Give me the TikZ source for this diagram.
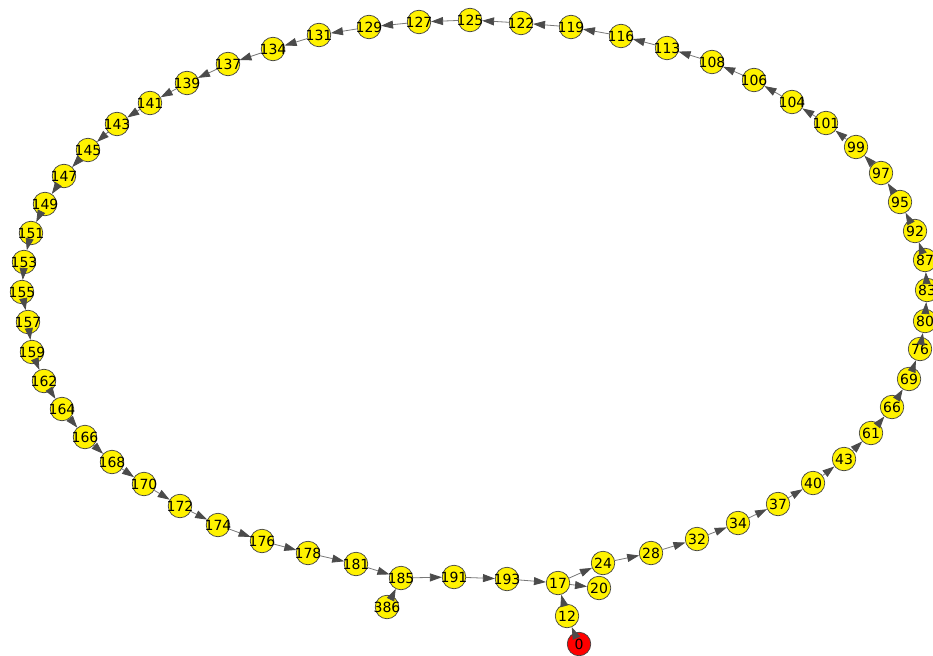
\documentclass[tikz,border=0pt]{standalone}
\usepackage{fontspec}
\setmainfont{DejaVu Sans}
\usetikzlibrary{arrows.meta}
\definecolor{edgegray}{RGB}{120,120,120}
\definecolor{tipgray}{RGB}{75,75,75}
% label that may run past the circle, as in the source drawing
\newcommand{\vlab}[1]{\makebox[0pt]{#1}}

\begin{document}
\begin{tikzpicture}[
    x=1pt, y=1pt, yscale=-1, xscale=1,
    vtx/.style={circle, draw=black!75, line width=0.7pt, fill=yellow,
                minimum size=23.5pt, inner sep=0pt, font=\fontsize{14}{14}\selectfont},
    root/.style={vtx, fill=red},
    edge/.style={draw=edgegray, line width=0.8pt,
                 -{Triangle[length=12pt,width=8pt,color=tipgray]}}
]
\useasboundingbox (0,0) rectangle (933,655);

%==================== Entry branch ====================
\node [root] (n0)   at (579,644) {\vlab{0}};
\node [vtx]  (n12)  at (567,616) {\vlab{12}};
\node [vtx]  (n17)  at (558,583) {\vlab{17}};
\node [vtx]  (n20)  at (599,588) {\vlab{20}};
\node [vtx]  (n386) at (387,607) {\vlab{386}};

%==================== Lower right arc ====================
\node [vtx] (n24) at (603,563) {\vlab{24}};
\node [vtx] (n28) at (651,553) {\vlab{28}};
\node [vtx] (n32) at (697,539) {\vlab{32}};
\node [vtx] (n34) at (738,523) {\vlab{34}};
\node [vtx] (n37) at (778,504) {\vlab{37}};
\node [vtx] (n40) at (813,483) {\vlab{40}};
\node [vtx] (n43) at (844,459) {\vlab{43}};
\node [vtx] (n61) at (871,433) {\vlab{61}};
\node [vtx] (n66) at (892,407) {\vlab{66}};
\node [vtx] (n69) at (909,379) {\vlab{69}};
\node [vtx] (n76) at (920,349) {\vlab{76}};
\node [vtx] (n80) at (925,321) {\vlab{80}};

%==================== Upper right arc ====================
\node [vtx] (n83)  at (927,290) {\vlab{83}};
\node [vtx] (n87)  at (925,260) {\vlab{87}};
\node [vtx] (n92)  at (915,231) {\vlab{92}};
\node [vtx] (n95)  at (900,202) {\vlab{95}};
\node [vtx] (n97)  at (881,173) {\vlab{97}};
\node [vtx] (n99)  at (856,147) {\vlab{99}};
\node [vtx] (n101) at (826,123) {\vlab{101}};
\node [vtx] (n104) at (792,102) {\vlab{104}};
\node [vtx] (n106) at (754,80)  {\vlab{106}};
\node [vtx] (n108) at (712,62)  {\vlab{108}};
\node [vtx] (n113) at (667,48)  {\vlab{113}};
\node [vtx] (n116) at (621,36)  {\vlab{116}};
\node [vtx] (n119) at (571,27)  {\vlab{119}};

%==================== Top arc ====================
\node [vtx] (n122) at (521,23)  {\vlab{122}};
\node [vtx] (n125) at (470,20)  {\vlab{125}};
\node [vtx] (n127) at (419,22)  {\vlab{127}};
\node [vtx] (n129) at (369,27)  {\vlab{129}};
\node [vtx] (n131) at (319,35)  {\vlab{131}};
\node [vtx] (n134) at (273,49)  {\vlab{134}};
\node [vtx] (n137) at (228,64)  {\vlab{137}};
\node [vtx] (n139) at (187,83)  {\vlab{139}};
\node [vtx] (n141) at (150,103) {\vlab{141}};
\node [vtx] (n143) at (117,124) {\vlab{143}};

%==================== Left arc ====================
\node [vtx] (n145) at (88,150)  {\vlab{145}};
\node [vtx] (n147) at (64,176)  {\vlab{147}};
\node [vtx] (n149) at (45,204)  {\vlab{149}};
\node [vtx] (n151) at (31,233)  {\vlab{151}};
\node [vtx] (n153) at (24,262)  {\vlab{153}};
\node [vtx] (n155) at (22,292)  {\vlab{155}};
\node [vtx] (n157) at (28,322)  {\vlab{157}};
\node [vtx] (n159) at (32,352)  {\vlab{159}};
\node [vtx] (n162) at (44,381)  {\vlab{162}};
\node [vtx] (n164) at (62,409)  {\vlab{164}};
\node [vtx] (n166) at (85,437)  {\vlab{166}};

%==================== Bottom arc ====================
\node [vtx] (n168) at (112,462) {\vlab{168}};
\node [vtx] (n170) at (144,484) {\vlab{170}};
\node [vtx] (n172) at (180,506) {\vlab{172}};
\node [vtx] (n174) at (218,525) {\vlab{174}};
\node [vtx] (n176) at (262,541) {\vlab{176}};
\node [vtx] (n178) at (308,553) {\vlab{178}};
\node [vtx] (n181) at (356,564) {\vlab{181}};
\node [vtx] (n185) at (401,578) {\vlab{185}};
\node [vtx] (n191) at (454,577) {\vlab{191}};
\node [vtx] (n193) at (507,579) {\vlab{193}};

%==================== Edges ====================
% entry and side branches
\draw [edge] (n0) -- (n12);
\draw [edge] (n12) -- (n17);
\draw [edge] (n17) -- (n20);
\draw [edge] (n386) -- (n185);

% the ring
\draw [edge] (n17) -- (n24);
\draw [edge] (n24) -- (n28);
\draw [edge] (n28) -- (n32);
\draw [edge] (n32) -- (n34);
\draw [edge] (n34) -- (n37);
\draw [edge] (n37) -- (n40);
\draw [edge] (n40) -- (n43);
\draw [edge] (n43) -- (n61);
\draw [edge] (n61) -- (n66);
\draw [edge] (n66) -- (n69);
\draw [edge] (n69) -- (n76);
\draw [edge] (n76) -- (n80);
\draw [edge] (n80) -- (n83);
\draw [edge] (n83) -- (n87);
\draw [edge] (n87) -- (n92);
\draw [edge] (n92) -- (n95);
\draw [edge] (n95) -- (n97);
\draw [edge] (n97) -- (n99);
\draw [edge] (n99) -- (n101);
\draw [edge] (n101) -- (n104);
\draw [edge] (n104) -- (n106);
\draw [edge] (n106) -- (n108);
\draw [edge] (n108) -- (n113);
\draw [edge] (n113) -- (n116);
\draw [edge] (n116) -- (n119);
\draw [edge] (n119) -- (n122);
\draw [edge] (n122) -- (n125);
\draw [edge] (n125) -- (n127);
\draw [edge] (n127) -- (n129);
\draw [edge] (n129) -- (n131);
\draw [edge] (n131) -- (n134);
\draw [edge] (n134) -- (n137);
\draw [edge] (n137) -- (n139);
\draw [edge] (n139) -- (n141);
\draw [edge] (n141) -- (n143);
\draw [edge] (n143) -- (n145);
\draw [edge] (n145) -- (n147);
\draw [edge] (n147) -- (n149);
\draw [edge] (n149) -- (n151);
\draw [edge] (n151) -- (n153);
\draw [edge] (n153) -- (n155);
\draw [edge] (n155) -- (n157);
\draw [edge] (n157) -- (n159);
\draw [edge] (n159) -- (n162);
\draw [edge] (n162) -- (n164);
\draw [edge] (n164) -- (n166);
\draw [edge] (n166) -- (n168);
\draw [edge] (n168) -- (n170);
\draw [edge] (n170) -- (n172);
\draw [edge] (n172) -- (n174);
\draw [edge] (n174) -- (n176);
\draw [edge] (n176) -- (n178);
\draw [edge] (n178) -- (n181);
\draw [edge] (n181) -- (n185);
\draw [edge] (n185) -- (n191);
\draw [edge] (n191) -- (n193);
\draw [edge] (n193) -- (n17);

\end{tikzpicture}
\end{document}
